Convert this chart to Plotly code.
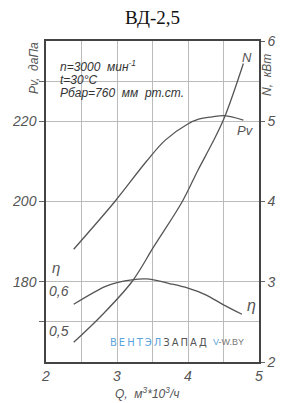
import plotly.graph_objects as go

# ---- data ----
q_pv = [2.39, 2.97, 3.41, 3.68, 3.985, 4.15, 4.34, 4.51, 4.78]
pv = [188.1, 200.0, 209.9, 215.3, 219.2, 220.5, 221.1, 221.4, 220.3]

q_n = [2.39, 2.79, 3.21, 3.52, 3.92, 4.14, 4.34, 4.51, 4.78]
n_kw = [2.245, 2.586, 3.0, 3.44, 4.0, 4.39, 4.725, 5.04, 5.72]

q_eta = [2.39, 2.83, 3.0, 3.41, 3.75, 4.0, 4.25, 4.5, 4.76]
eta = [0.544, 0.588, 0.598, 0.607, 0.595, 0.584, 0.5675, 0.5425, 0.519]

x_ticks = [2, 2.5, 3, 3.5, 4, 4.5, 5]
x_ticktext = ["2", "", "3", "", "4", "", "5"]
pv_ticks = [170, 180, 200, 220, 230]
pv_ticktext = ["", "180", "200", "220", ""]
n_ticks = [2, 3, 4, 5, 6]
eta_ticks = [0.6, 0.5]
eta_ticktext = ["0,6", "0,5"]

LINE = "#555555"
TXT = "#555555"
GRID = "#bbbbbb"
FONT = "Liberation Sans"

fig = go.Figure()
fig.add_trace(go.Scatter(x=q_pv, y=pv, mode="lines", line=dict(color=LINE, width=1.3, shape="spline"),
                         yaxis="y", showlegend=False, hoverinfo="skip"))
fig.add_trace(go.Scatter(x=q_n, y=n_kw, mode="lines", line=dict(color=LINE, width=1.3, shape="spline"),
                         yaxis="y2", showlegend=False, hoverinfo="skip"))
fig.add_trace(go.Scatter(x=q_eta, y=eta, mode="lines", line=dict(color=LINE, width=1.3, shape="spline"),
                         yaxis="y3", showlegend=False, hoverinfo="skip"))

tickfont = dict(family=FONT, size=14, color=TXT, style="italic")

fig.update_layout(
    width=297, height=403,
    margin=dict(l=34, r=38, t=41, b=41),
    paper_bgcolor="white", plot_bgcolor="white",
    xaxis=dict(range=[2, 5], tickvals=x_ticks, ticktext=x_ticktext, showgrid=True,
               gridcolor=GRID, gridwidth=1, showline=True, linecolor="#444", linewidth=1.5,
               mirror=True, ticks="", tickfont=tickfont, zeroline=False),
    yaxis=dict(range=[160, 240], tickvals=pv_ticks, ticktext=pv_ticktext, showgrid=True,
               gridcolor=GRID, gridwidth=1, showline=True, linecolor="#444", linewidth=1.5,
               ticks="outside", ticklen=5, tickcolor="#666", tickfont=tickfont, zeroline=False),
    yaxis2=dict(range=[2, 6], tickvals=n_ticks, overlaying="y", side="right", showgrid=False,
                showline=True, linecolor="#444", linewidth=1.5, ticks="outside", ticklen=4,
                tickcolor="#666", tickfont=tickfont, zeroline=False),
    yaxis3=dict(range=[0.4, 1.2], overlaying="y", visible=False, showgrid=False),
)

ann = []
# title
ann.append(dict(text="ВД-2,5", xref="paper", yref="paper", x=0.5, y=1, yshift=24, yanchor="middle",
                xanchor="center", showarrow=False,
                font=dict(family="Liberation Serif", size=19, color="#111")))
# axis titles
ann.append(dict(text="Pv,  даПа", xref="paper", yref="paper", x=0, xshift=-12, y=1, yshift=-27,
                xanchor="center", yanchor="middle",
                textangle=-90, showarrow=False, font=dict(family=FONT, size=12, color=TXT, style="italic")))
ann.append(dict(text="N,  кВт", xref="paper", yref="paper", x=1, xshift=8, y=1, yshift=-34,
                xanchor="center", yanchor="middle",
                textangle=-90, showarrow=False, font=dict(family=FONT, size=12, color=TXT, style="italic")))
ann.append(dict(text="Q,  м<sup>3</sup>*10<sup>3</sup>/ч", xref="paper", yref="paper", x=0.475, y=0,
                yshift=-31, xanchor="center", yanchor="middle", showarrow=False,
                font=dict(family=FONT, size=12, color=TXT, style="italic")))
# conditions
cond = ["n=3000  мин<sup>-1</sup>", "t=30°C", "Pбар=760  мм  рт.ст."]
for i, t in enumerate(cond):
    ann.append(dict(text=t, xref="paper", yref="paper", x=0.056, y=1, yshift=-25 - 13.5 * i,
                    xanchor="left", yanchor="middle", showarrow=False,
                    font=dict(family=FONT, size=12, color="#333", style="italic")))
# eta tick labels (inside)
for v, t in zip(eta_ticks, eta_ticktext):
    ann.append(dict(text=t, x=2.02, y=v, xref="x", yref="y3", xanchor="left", yanchor="middle",
                    yshift=-9, showarrow=False,
                    font=dict(family=FONT, size=14, color=TXT, style="italic")))
ann.append(dict(text="η", x=2.05, y=0.6, xref="x", yref="y3", xanchor="left", yanchor="middle",
                yshift=14, showarrow=False, font=dict(family=FONT, size=15, color=TXT, style="italic")))
# curve labels
ann.append(dict(text="N", x=q_n[-1], y=n_kw[-1], xref="x", yref="y2", xshift=4, yshift=6,
                showarrow=False, font=dict(family=FONT, size=13, color=TXT, style="italic")))
ann.append(dict(text="Pv", x=q_pv[-1], y=pv[-1], xref="x", yref="y", xshift=2, yshift=-10,
                showarrow=False, font=dict(family=FONT, size=13, color=TXT, style="italic")))
ann.append(dict(text="η", x=q_eta[-1], y=eta[-1], xref="x", yref="y3", xshift=10, yshift=9,
                showarrow=False, font=dict(family=FONT, size=16, color=TXT, style="italic")))
# watermark
ann.append(dict(text="<span style='color:#5aa5dd'>В\u2009Е\u2009Н\u2009Т\u2009Э\u2009Л\u2009</span>"
                     "<span style='color:#555'>З\u2009А\u2009П\u2009А\u2009Д</span>",
                xref="paper", yref="paper", x=0.293, y=0, yshift=20, xanchor="left", yanchor="middle",
                showarrow=False, font=dict(family="DejaVu Sans", size=10)))
ann.append(dict(text="<span style='color:#5aa5dd'>V</span><span style='color:#777'>-W.BY</span>",
                xref="paper", yref="paper", x=0.775, y=0, yshift=20, xanchor="left", yanchor="middle",
                showarrow=False, font=dict(family="Liberation Sans", size=9)))

fig.update_layout(annotations=ann)
fig.write_html("out.html")
